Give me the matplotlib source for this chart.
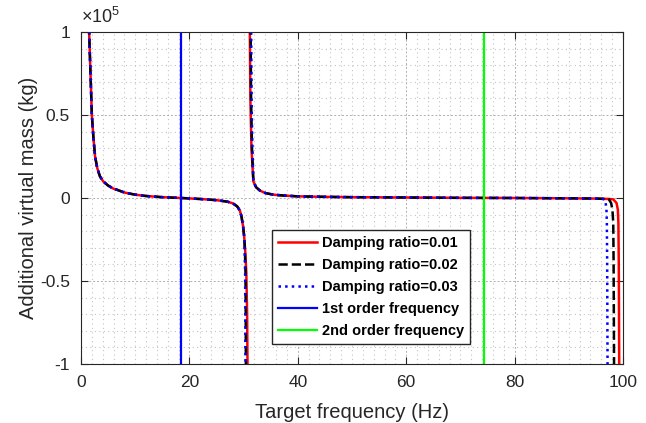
import numpy as np
import matplotlib.pyplot as plt

plt.rcParams['font.family'] = ['Liberation Sans', 'DejaVu Sans']
plt.rcParams['mathtext.fontset'] = 'custom'
plt.rcParams['mathtext.rm'] = 'Liberation Sans'
plt.rcParams['axes.unicode_minus'] = False

# additional virtual mass, in units of 1e5 kg
# branch below the first anti-resonance (shared by all damping ratios)
f_low = [1.3, 1.5, 1.7, 2.0, 2.3, 2.6, 3.0, 3.5, 4.1, 5.0, 6.0, 6.6, 8.0, 10.0,
         12.0, 15.0, 18.5, 22.0, 25.0, 27.0, 28.0, 28.8, 29.3, 29.6, 29.9, 30.1]
m_low = [1.30, 1.00, 0.80, 0.50, 0.36, 0.25, 0.18, 0.13, 0.10, 0.075, 0.056, 0.05,
         0.033, 0.02, 0.012, 0.005, 0.0, -0.006, -0.013, -0.022, -0.032, -0.05,
         -0.075, -0.11, -0.17, -0.23]

# tail of the low branch, per damping ratio
f_low_tail = {0.01: [30.3, 30.5, 30.65, 30.72, 30.75],
              0.02: [30.25, 30.35, 30.4, 30.43, 30.45],
              0.03: [30.2, 30.28, 30.32, 30.35, 30.37]}
m_low_tail = [-0.32, -0.45, -0.7, -1.0, -1.3]

# middle branch (between the two poles)
f_mid_head = {0.01: [31.12, 31.15, 31.25, 31.45],
              0.02: [31.25, 31.3, 31.38, 31.55],
              0.03: [31.35, 31.4, 31.47, 31.62]}
m_mid_head = [1.3, 1.0, 0.6, 0.3]

f_mid = [31.8, 32.3, 33.0, 34.0, 35.5, 37.3, 40.0, 45.0, 50.0, 60.0, 70.0, 80.0,
         90.0, 94.0, 95.5]
m_mid = [0.10, 0.065, 0.045, 0.03, 0.02, 0.015, 0.01, 0.007, 0.005, 0.003,
         0.001, 0.0, -0.002, -0.003, -0.004]

# tail near the second pole, per damping ratio
f_mid_tail = {0.01: [96.5, 97.5, 98.2, 98.8, 99.05, 99.15, 99.22, 99.3, 99.35],
              0.02: [96.3, 96.9, 97.4, 97.8, 98.05, 98.2, 98.27, 98.35, 98.4],
              0.03: [96.0, 96.3, 96.55, 96.8, 96.95, 97.02, 97.08, 97.15, 97.2]}
m_mid_tail = [-0.005, -0.006, -0.008, -0.03, -0.07, -0.15, -0.4, -1.0, -1.3]

damping = [0.01, 0.02, 0.03]
styles = {0.01: ('#FF0000', '-'), 0.02: ('k', '--'), 0.03: ('#0000FF', ':')}

f_first = 18.5
f_second = 74.4

fig = plt.figure(figsize=(6.46, 4.23), dpi=100)
ax = fig.add_axes([81/646, 1-364/423, 542/646, 332/423])

for d in damping:
    c, ls = styles[d]
    fx = np.concatenate([f_low, f_low_tail[d]])
    my = np.concatenate([m_low, m_low_tail])
    ax.plot(fx, my, color=c, linestyle=ls, lw=1.8,
            label=f'Damping ratio={d:.2f}')
    fx = np.concatenate([f_mid_head[d], f_mid, f_mid_tail[d]])
    my = np.concatenate([m_mid_head, m_mid, m_mid_tail])
    ax.plot(fx, my, color=c, linestyle=ls, lw=1.8)

ax.axvline(f_first, color='#0000FF', lw=1.6, label='1st order frequency')
ax.axvline(f_second, color='#00FF00', lw=1.6, label='2nd order frequency')

ax.set_xlim(0, 100)
ax.set_ylim(-1, 1)
ax.set_xticks([0, 20, 40, 60, 80, 100])
ax.set_yticks([-1, -0.5, 0, 0.5, 1])
ax.set_yticklabels(['-1', '-0.5', '0', '0.5', '1'])
ax.set_xticks(np.arange(0, 101, 2), minor=True)
ax.set_yticks(np.arange(-1, 1.01, 0.1), minor=True)
ax.tick_params(which='major', direction='in', length=5, top=True, right=True,
               labelsize=12.5, colors='#262626', width=0.8, pad=8)
ax.tick_params(which='minor', length=0)
ax.grid(which='major', color='#b0b0b0', linestyle=(0, (2, 2)), lw=0.7)
ax.grid(which='minor', color='#c4c4c4', linestyle=(0, (1, 3)), lw=0.8)
for s in ax.spines.values():
    s.set_color('#262626')
    s.set_linewidth(0.8)

ax.set_xlabel('Target frequency (Hz)', fontsize=14.5, color='#262626', labelpad=9)
ax.set_ylabel('Additional virtual mass (kg)', fontsize=14.5, color='#262626', labelpad=1)
ax.text(0.0, 1.015, r'$\mathregular{\times10^{5}}$', transform=ax.transAxes,
        fontsize=13, color='#262626', ha='left', va='bottom')

leg = ax.legend(loc='upper left', bbox_to_anchor=(272/646, 1-230/423),
                bbox_transform=fig.transFigure, borderaxespad=0,
                prop={'size': 10.5, 'weight': 'bold'}, handlelength=2.7,
                handletextpad=0.3, labelspacing=0.55, borderpad=0.4,
                fancybox=False, framealpha=1)
leg.get_frame().set_edgecolor('#262626')
leg.get_frame().set_linewidth(1.0)

fig.savefig('out.png', dpi=100)
